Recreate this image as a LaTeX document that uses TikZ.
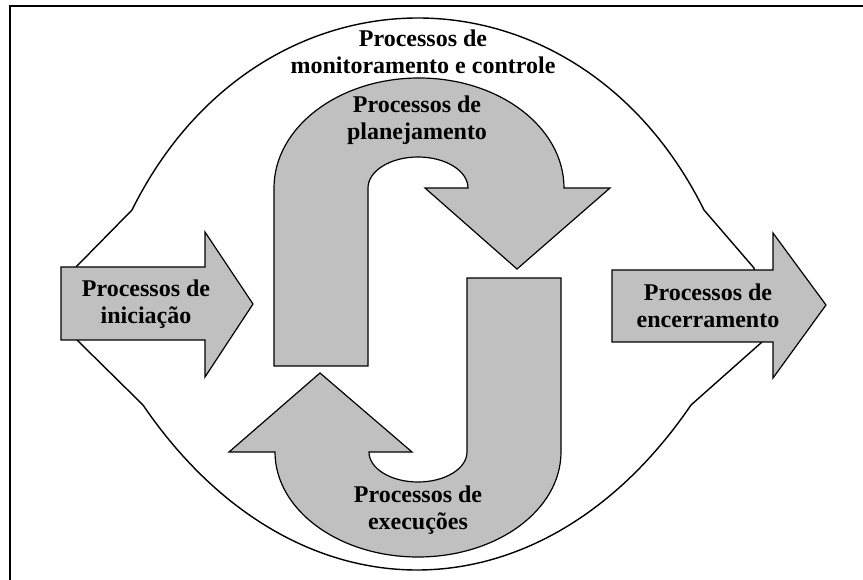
\documentclass[tikz,border=0pt]{standalone}
\usepackage{fontspec}
\setmainfont{Liberation Serif}
\definecolor{arrowgray}{HTML}{C0C0C0}
\begin{document}
\begin{tikzpicture}[x=1pt,y=-1pt,
  procarrow/.style={fill=arrowgray,draw=black,line width=1.2pt},
  proclabel/.style={font=\fontsize{24}{27}\selectfont\bfseries,align=center}]
  \useasboundingbox (0,0) rectangle (863,580);
  \draw[line width=2pt] (10,585) -- (10,6) -- (870,6);
  \draw[line width=1.4pt] (76,267) -- (132,210) .. controls (259,-46) and (577,-46) .. (704,210) -- (754,268) -- (762,342) -- (691,405) .. controls (541,625) and (293,625) .. (143,405) -- (77,340) -- cycle;
  \draw[procarrow] (61,267) -- (205,267) -- (205,232) -- (253,304) -- (205,377) -- (205,340) -- (61,340) -- cycle;
  \draw[procarrow] (612,270) -- (773,270) -- (773,233) -- (826,305) -- (773,378) -- (773,342) -- (612,342) -- cycle;
  \draw[procarrow] (274,366) -- (274,188) arc[start angle=180, end angle=360, x radius=145, y radius=110] -- (610,188) -- (517,269) -- (425,188) -- (468,188) arc[start angle=360, end angle=180, x radius=50, y radius=31] -- (368,366) -- cycle;
  \draw[procarrow] (561,278) -- (561,452) arc[start angle=0, end angle=180, x radius=143, y radius=105] -- (229,452) -- (320,373) -- (412,452) -- (369,452) arc[start angle=180, end angle=0, x radius=49, y radius=30] -- (467,278) -- cycle;
  \node[proclabel] (monit) at (423,52) {Processos de\\monitoramento e controle};
  \node[proclabel] (planej) at (417,120) {Processos de\\planejamento};
  \node[proclabel] (exec) at (418,510) {Processos de\\execuções};
  \node[proclabel] (inic) at (146,304) {Processos de\\iniciação};
  \node[proclabel] (encerr) at (708,306) {Processos de\\encerramento};
\end{tikzpicture}
\end{document}
